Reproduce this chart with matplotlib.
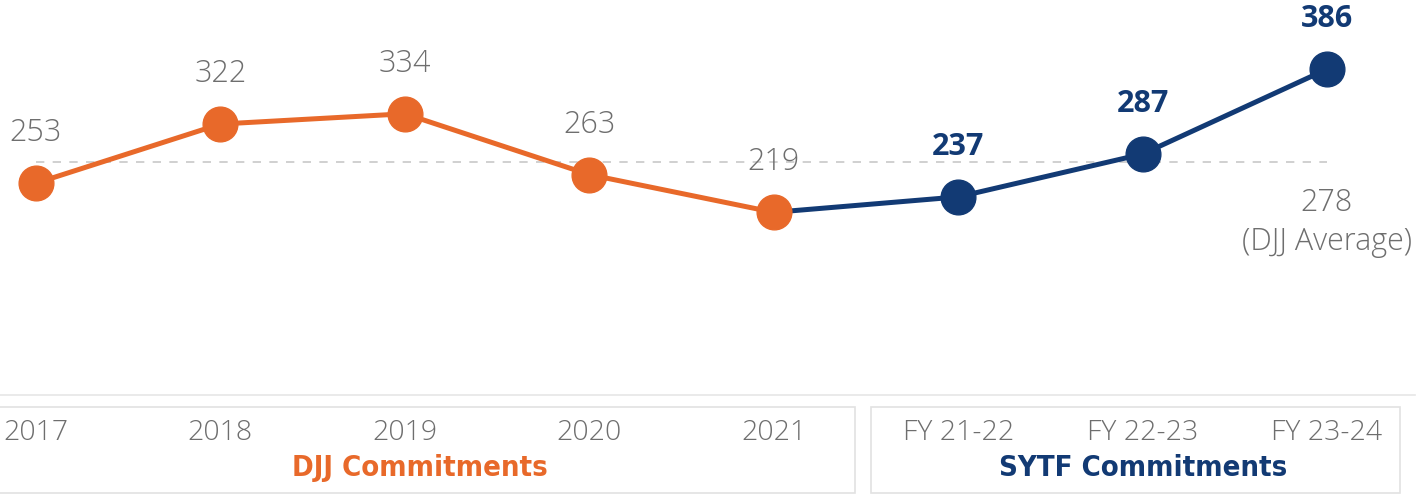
import matplotlib
matplotlib.use("Agg")
import matplotlib.pyplot as plt
from matplotlib.patches import Rectangle
from matplotlib.lines import Line2D

# Data
djj_years = ["2017", "2018", "2019", "2020", "2021"]
djj_values = [253, 322, 334, 263, 219]
sytf_years = ["FY 21-22", "FY 22-23", "FY 23-24"]
sytf_values = [237, 287, 386]
djj_average = 278

ORANGE = "#E8692A"
NAVY = "#123A74"
GREY_TXT = "#6e6e6e"

W, H = 1422, 494
fig = plt.figure(figsize=(W / 100, H / 100), dpi=100)
ax = fig.add_axes([0, 0, 1, 1])
ax.axis("off")

# axis scales (pixel mapping)
x0_px, dx_px = 36, (1327 - 36) / 7
base_px, k = 400, 0.857
ax.set_xlim(-x0_px / dx_px, (W - x0_px) / dx_px)
ax.set_ylim((base_px - H) / k, base_px / k)

n_djj = len(djj_values)
x_djj = list(range(n_djj))
x_sytf = list(range(n_djj, n_djj + len(sytf_values)))

# average reference line
ax.plot([x_djj[0], x_sytf[-1]], [djj_average, djj_average], color="#c8c8c8",
        lw=1.2, dashes=(5, 5), zorder=1)

# SYTF line continues from last DJJ point
ax.plot([x_djj[-1]] + x_sytf, [djj_values[-1]] + sytf_values, color=NAVY,
        lw=3.6, zorder=2)
ax.plot(x_sytf, sytf_values, "o", color=NAVY, ms=25, zorder=3)
ax.plot(x_djj, djj_values, "-o", color=ORANGE, lw=3.6, ms=25, zorder=4)

num_font = ["Open Sans", "DejaVu Sans"]
for x, v in zip(x_djj, djj_values):
    ax.annotate(str(v), (x, v), xytext=(0, 36), textcoords="offset points",
                ha="center", va="center", fontsize=22, color=GREY_TXT,
                family=num_font, fontweight="light")
for x, v in zip(x_sytf, sytf_values):
    ax.annotate(str(v), (x, v), xytext=(0, 36), textcoords="offset points",
                ha="center", va="center", fontsize=22, color=NAVY,
                family=num_font, fontweight="bold")

# average label
ax.annotate(f"{djj_average}", (x_sytf[-1], djj_average), xytext=(0, -30),
            textcoords="offset points", ha="center", va="center",
            fontsize=22, color=GREY_TXT, family=num_font, fontweight="light")
ax.annotate("(DJJ Average)", (x_sytf[-1], djj_average), xytext=(0, -58),
            textcoords="offset points", ha="center", va="center",
            fontsize=22, color=GREY_TXT, family=num_font, fontweight="light")

# category boxes below the plot
ft = fig.transFigure
def px_rect(x, y, w, h, **kw):
    return Rectangle((x / W, 1 - (y + h) / H), w / W, h / H, transform=ft, **kw)

fig.add_artist(Line2D([0, 1415 / W], [1 - 395 / H] * 2, transform=ft,
                      color="#e6e6e6", lw=1.2))
fig.add_artist(px_rect(-2, 407, 857, 86, fill=False, ec="#e2e2e2", lw=1.2))
fig.add_artist(px_rect(871, 407, 529, 86, fill=False, ec="#e2e2e2", lw=1.2))

tick_y = (base_px - 433) / k
for x, lab in zip(x_djj + x_sytf, djj_years + sytf_years):
    ax.text(x, tick_y, lab, ha="center", va="center", fontsize=20.5,
            color=GREY_TXT, family=num_font, fontweight="light")

group_font = ["DejaVu Sans", "Open Sans"]
ax.text(420 / W, 1 - 468 / H, "DJJ Commitments", transform=ft, ha="center",
        va="center", fontsize=21, color=ORANGE, fontweight="bold",
        fontstretch="condensed", family=group_font)
ax.text(1143 / W, 1 - 468 / H, "SYTF Commitments", transform=ft, ha="center",
        va="center", fontsize=21, color=NAVY, fontweight="bold",
        fontstretch="condensed", family=group_font)

fig.savefig("out.png", dpi=100)
